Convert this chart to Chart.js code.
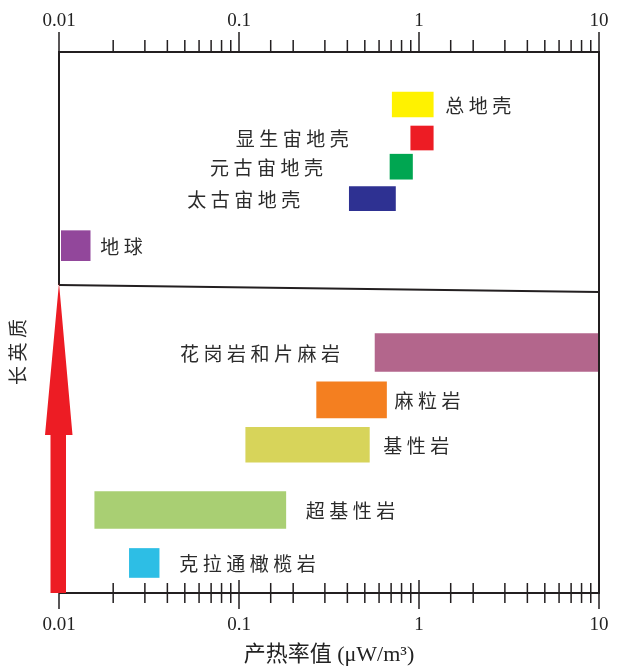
<!DOCTYPE html>
<html>
<head>
<meta charset="utf-8">
<script src="https://cdn.jsdelivr.net/npm/chart.js@4/dist/chart.umd.min.js"></script>
<style>
  html, body { margin: 0; padding: 0; background: #ffffff; }
  #wrap { width: 619px; height: 666px; position: relative; }
</style>
</head>
<body>
<div id="wrap"><canvas id="chart"></canvas></div>
<script>
// Heat production ranges (μW/m³) of crustal reservoirs and rock types
const categories = ['总地壳', '显生宙地壳', '元古宙地壳', '太古宙地壳', '地球',
                    '花岗岩和片麻岩', '麻粒岩', '基性岩', '超基性岩', '克拉通橄榄岩'];
const lowValues  = [0.71, 0.90, 0.69, 0.41, 0.0103, 0.57, 0.27, 0.109, 0.0158, 0.0246];
const highValues = [1.20, 1.20, 0.92, 0.74, 0.0149, 10,   0.66, 0.53,  0.182,  0.036];
const axisTickLabels = ['0.01', '0.1', '1', '10'];
const axisTitle = '产热率值 (μW/m³)';
const sideTitle = '长英质';

// Layout: row height of each band (0 = bottom, 100 = top), bar size, label placement
const rowLevel   = [90.3, 84.1, 78.8, 72.9, 64.2, 44.45, 35.7, 27.4, 15.35, 5.55];
const barSize    = [25, 24, 25, 24, 30, 38, 36, 35, 37, 29];
const labelSide  = ['right', 'left', 'left', 'left', 'right', 'left', 'right', 'right', 'right', 'right'];
const labelGap   = [12, 62, 67, 49, 10, 35, 8, 14, 20, 20];
const barColors  = ['#FFF200', '#ED1C24', '#00A651', '#2E3192', '#92479B',
                    '#B3668C', '#F47F20', '#D7D45A', '#A9CF73', '#2DBEE5'];
const boundaryLevels = [56.93, 55.64];

const INK = '#231f20';
const TEXT = '#2b2b2b';
const LETTER_GAP = 4.5;

function tickText(value) {
  const hit = axisTickLabels.find(t => Math.abs(Number(t) - value) < value * 1e-6);
  return hit === undefined ? '' : hit;
}
function isDecade(v) {
  const l = Math.log10(v);
  return Math.abs(l - Math.round(l)) < 1e-9;
}

const barSets = categories.map((name, i) => ({
  type: 'bar',
  label: name,
  indexAxis: 'y',
  xAxisID: 'x',
  yAxisID: 'y',
  data: [{ x: [lowValues[i], highValues[i]], y: rowLevel[i] }],
  backgroundColor: barColors[i],
  borderWidth: 0,
  barThickness: barSize[i],
  grouped: false
}));

const boundarySet = {
  type: 'line',
  label: 'boundary',
  xAxisID: 'x',
  yAxisID: 'y',
  data: [{ x: 0.01, y: boundaryLevels[0] }, { x: 10, y: boundaryLevels[1] }],
  borderColor: INK,
  borderWidth: 2,
  pointRadius: 0,
  tension: 0
};

// Frame, tick marks, the red arrow and the text labels
const decor = {
  id: 'decor',
  afterDatasetsDraw(chart) {
    const { ctx, chartArea: a, scales } = chart;
    const x = scales.x, y = scales.y;
    const sepY = y.getPixelForValue(boundaryLevels[0]);
    ctx.save();

    // frame
    ctx.strokeStyle = INK;
    ctx.lineWidth = 2;
    ctx.beginPath();
    ctx.moveTo(a.left - 1, a.top); ctx.lineTo(a.right + 1, a.top);
    ctx.moveTo(a.left, a.bottom); ctx.lineTo(a.right + 1, a.bottom);
    ctx.moveTo(a.right, a.top); ctx.lineTo(a.right, a.bottom);
    ctx.moveTo(a.left, a.top); ctx.lineTo(a.left, sepY);
    ctx.stroke();

    // tick marks on both axes
    ctx.lineWidth = 1.5;
    ctx.beginPath();
    for (const t of scales.xTop.ticks) {
      const px = scales.xTop.getPixelForValue(t.value);
      const len = isDecade(t.value) ? 20 : 12;
      ctx.moveTo(px, a.top); ctx.lineTo(px, a.top - len);
    }
    for (const t of x.ticks) {
      const px = x.getPixelForValue(t.value);
      if (isDecade(t.value)) { ctx.moveTo(px, a.bottom - 13); ctx.lineTo(px, a.bottom + 16); }
      else { ctx.moveTo(px, a.bottom - 10); ctx.lineTo(px, a.bottom + 10); }
    }
    ctx.stroke();

    // arrow pointing up the felsic direction
    const ax = x.getPixelForValue(0.01);
    const baseY = sepY + 150;
    ctx.fillStyle = '#ED1C24';
    ctx.beginPath();
    ctx.moveTo(ax, sepY - 2);
    ctx.lineTo(ax + 13.5, baseY);
    ctx.lineTo(ax + 7, baseY);
    ctx.lineTo(ax + 7, a.bottom);
    ctx.lineTo(ax - 8.5, a.bottom);
    ctx.lineTo(ax - 8.5, baseY);
    ctx.lineTo(ax - 14, baseY);
    ctx.closePath();
    ctx.fill();

    // bar labels
    ctx.font = '19px "Noto Sans CJK SC"';
    ctx.letterSpacing = LETTER_GAP + 'px';
    ctx.fillStyle = TEXT;
    ctx.textBaseline = 'middle';
    ctx.textAlign = 'left';
    categories.forEach((name, i) => {
      const el = chart.getDatasetMeta(i).data[0];
      const p = el.getProps(['x', 'base', 'y'], true);
      const lo = Math.min(p.x, p.base), hi = Math.max(p.x, p.base);
      const w = ctx.measureText(name).width - LETTER_GAP;
      const tx = labelSide[i] === 'right' ? hi + labelGap[i] : lo - labelGap[i] - w;
      ctx.fillText(name, tx, p.y + 1);
    });

    // side title
    ctx.translate(18, 352);
    ctx.rotate(-Math.PI / 2);
    const sw = ctx.measureText(sideTitle).width - LETTER_GAP;
    ctx.fillText(sideTitle, -sw / 2, 0);
    ctx.restore();
  }
};

const tickFont = { family: '"Liberation Serif", "Times New Roman", serif', size: 19, lineHeight: 1 };

// keep the plot box fixed: the axis band heights are set, and no extra side padding for end labels
function fixBand(height) {
  return function (s) {
    s.height = height;
    s.paddingLeft = 0;
    s.paddingRight = 0;
  };
}

new Chart(document.getElementById('chart'), {
  type: 'bar',
  data: { datasets: [...barSets, boundarySet] },
  options: {
    responsive: true,
    maintainAspectRatio: false,
    animation: false,
    devicePixelRatio: 1,
    layout: { padding: { left: 59, right: 20, top: 0, bottom: 0 } },
    plugins: { legend: { display: false }, tooltip: { enabled: false } },
    scales: {
      x: {
        type: 'logarithmic', axis: 'x', position: 'bottom', min: 0.01, max: 10,
        grid: { display: false, drawTicks: false },
        border: { display: false },
        ticks: { autoSkip: false, maxRotation: 0, padding: 23, font: tickFont, color: '#222', callback: tickText },
        title: {
          display: true, text: axisTitle, color: '#222', padding: 0,
          font: { family: '"Liberation Serif", "Noto Sans CJK SC", serif', size: 22, lineHeight: 1 }
        },
        afterFit: fixBand(73)
      },
      xTop: {
        type: 'logarithmic', axis: 'x', position: 'top', min: 0.01, max: 10,
        grid: { display: false, drawTicks: false },
        border: { display: false },
        ticks: { autoSkip: false, maxRotation: 0, padding: 21, font: tickFont, color: '#222', callback: tickText },
        afterFit: fixBand(52)
      },
      y: { type: 'linear', axis: 'y', min: 0, max: 100, display: false, offset: false }
    }
  },
  plugins: [decor]
});
</script>
</body>
</html>
